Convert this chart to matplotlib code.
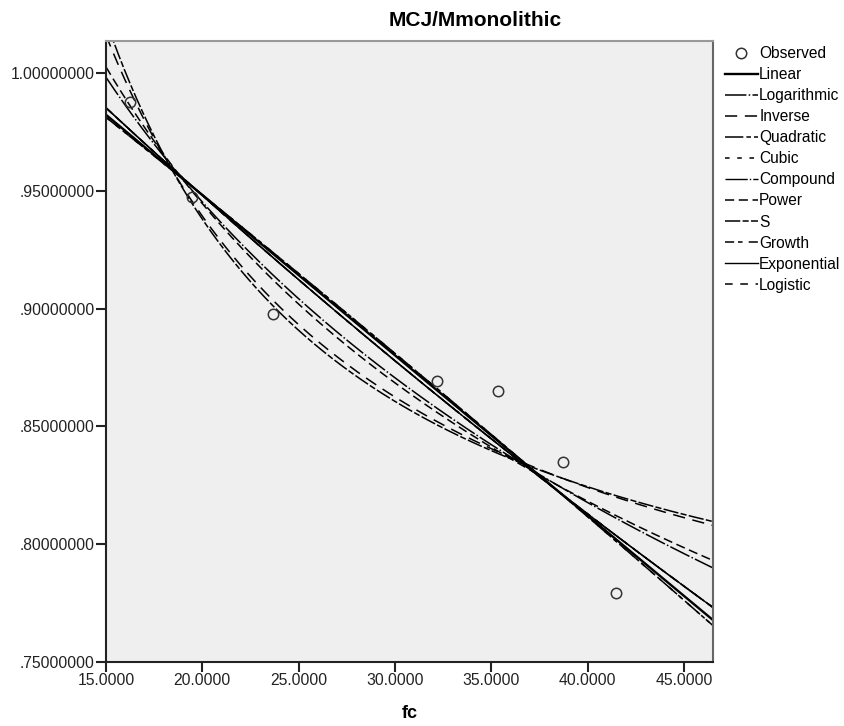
import numpy as np
import matplotlib.pyplot as plt

# observed points
fc = [16.25, 19.45, 23.65, 32.19, 35.36, 38.73, 41.45]
mcj = [0.9879, 0.9475, 0.8979, 0.8692, 0.8649, 0.8347, 0.7791]

xticks = [15, 20, 25, 30, 35, 40, 45]
yticks = [0.75, 0.80, 0.85, 0.90, 0.95, 1.00]

plt.rcParams['font.family'] = ['Liberation Sans', 'DejaVu Sans']

x = np.array(fc)
y = np.array(mcj)
xx = np.linspace(15, 46.52, 400)

# curve estimation models, fitted to the observed points like SPSS does
fits = {}
p = np.polyfit(x, y, 1)
fits['Linear'] = np.polyval(p, xx)
p = np.polyfit(np.log(x), y, 1)
fits['Logarithmic'] = np.polyval(p, np.log(xx))
p = np.polyfit(1 / x, y, 1)
fits['Inverse'] = np.polyval(p, 1 / xx)
p = np.polyfit(x, y, 2)
fits['Quadratic'] = np.polyval(p, xx)
# SPSS drops the cubic term here (tolerance), so cubic == quadratic
fits['Cubic'] = fits['Quadratic']
p = np.polyfit(x, np.log(y), 1)
expo = np.exp(np.polyval(p, xx))
fits['Compound'] = expo
p = np.polyfit(np.log(x), np.log(y), 1)
fits['Power'] = np.exp(np.polyval(p, np.log(xx)))
p = np.polyfit(1 / x, np.log(y), 1)
fits['S'] = np.exp(np.polyval(p, 1 / xx))
fits['Growth'] = expo
fits['Exponential'] = expo
fits['Logistic'] = expo  # no upper bound -> same as exponential

styles = {
    'Linear': dict(lw=1.7),
    'Logarithmic': dict(lw=1.1, dashes=(14, 1.5, 1, 1.5)),
    'Inverse': dict(lw=1.1, dashes=(8, 5)),
    'Quadratic': dict(lw=1.1, dashes=(12, 2, 3, 2)),
    'Cubic': dict(lw=1.1, dashes=(3, 5)),
    'Compound': dict(lw=1.0, dashes=(16, 1.5, 1, 1.5)),
    'Power': dict(lw=1.1, dashes=(6, 3)),
    'S': dict(lw=1.1, dashes=(10, 1.5, 4, 1.5)),
    'Growth': dict(lw=1.1, dashes=(6, 2.5, 3, 4)),
    'Exponential': dict(lw=1.0),
    'Logistic': dict(lw=1.1, dashes=(5, 5)),
}

fig = plt.figure(figsize=(8.45, 7.26), dpi=100)
ax = fig.add_axes([0.1254, 0.0886, 0.7188, 0.8553])
ax.set_facecolor('#efefef')

ax.plot(fc, mcj, 'o', ms=7.5, mfc='none', mec='#333333', mew=1.1, label='Observed', zorder=5)
for name in styles:
    ax.plot(xx, fits[name], color='black', label=name, **styles[name])

ax.set_xlim(15, 46.52)
ax.set_ylim(0.75, 1.0139)
ax.set_xticks(xticks)
ax.set_xticklabels(['%.4f' % v for v in xticks])
ax.set_yticks(yticks)
ax.set_yticklabels([('%.8f' % v).lstrip('0') for v in yticks])
ax.tick_params(length=7, width=1.5, labelsize=11.3, colors='#222222', pad=1)

for s in ['left', 'bottom']:
    ax.spines[s].set_linewidth(1.5)
    ax.spines[s].set_color('#222222')
ax.spines['top'].set_color('#999999')
ax.spines['right'].set_color('#666666')
ax.spines['top'].set_linewidth(1.5)
ax.spines['right'].set_linewidth(1.5)

fig.text(410 / 845, 1 - 714 / 726, 'fc', fontsize=13, fontweight='bold',
         ha='center', va='center')
fig.text(475 / 845, 1 - 20 / 726, 'MCJ/Mmonolithic', fontsize=15, fontweight='bold',
         ha='center', va='center')

ax.legend(loc='upper left', bbox_to_anchor=(725 / 845, 1 - 46 / 726),
          bbox_transform=fig.transFigure, frameon=False, fontsize=11.2,
          handlelength=2.1, handletextpad=0.1, labelspacing=0.39,
          borderpad=0, borderaxespad=0)

fig.savefig('out.png', dpi=100)
